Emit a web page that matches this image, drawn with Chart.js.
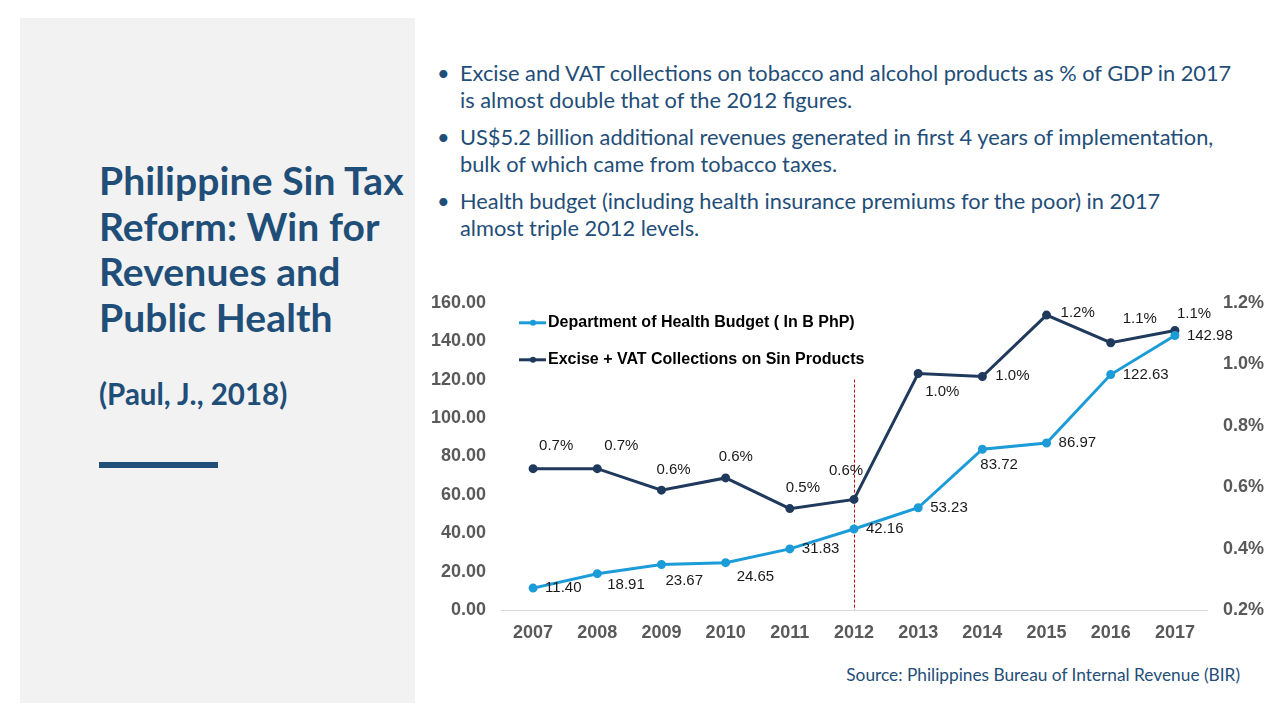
<!DOCTYPE html>
<html>
<head>
<meta charset="utf-8">
<script src="https://cdn.jsdelivr.net/npm/chart.js@4.4.1/dist/chart.umd.min.js"></script>
<style>
    body { margin: 0; width: 1280px; height: 720px; background: #fff; position: relative; overflow: hidden; font-family: Lato, "Open Sans", sans-serif; }
    #panel { position: absolute; left: 20px; top: 18px; width: 395px; height: 685px; background: #f2f2f2; }
    #title { position: absolute; left: 99px; top: 158px; color: #1f4e79; font-weight: bold; font-size: 39px; line-height: 45.5px; letter-spacing: 0.1px; white-space: nowrap; }
    #cite { position: absolute; left: 99px; top: 376px; color: #1f4e79; font-weight: bold; font-size: 29.5px; white-space: nowrap; }
    #bar { position: absolute; left: 99px; top: 462px; width: 119px; height: 6px; background: #1f4e79; }
    #bullets { position: absolute; left: 437px; top: 59px; color: #1f4e79; font-size: 21.8px; line-height: 27px; }
    .b { position: relative; padding-left: 23px; white-space: nowrap; margin-bottom: 10px; letter-spacing: 0; }
    .b:before { content: "\2022"; position: absolute; left: 0; top: 0; }
    #source { position: absolute; right: 40px; top: 664px; color: #1f4e79; font-size: 17.3px; white-space: nowrap; }
    #box { position: absolute; left: 420px; top: 276px; width: 860px; height: 374px; }
</style>
</head>
<body>
<div id="panel"></div>
<div id="title">Philippine Sin Tax<br>Reform: Win for<br>Revenues and<br>Public Health</div>
<div id="cite">(Paul, J., 2018)</div>
<div id="bar"></div>
<div id="bullets">
    <div class="b">Excise and VAT collections on tobacco and alcohol products as % of GDP in 2017<br>is almost double that of the 2012 figures.</div>
    <div class="b">US$5.2 billion additional revenues generated in first 4 years of implementation,<br>bulk of which came from tobacco taxes.</div>
    <div class="b">Health budget (including health insurance premiums for the poor) in 2017<br>almost triple 2012 levels.</div>
</div>
<div id="source">Source: Philippines Bureau of Internal Revenue (BIR)</div>
<div id="box"><canvas id="graph"></canvas></div>
<script>
// data
var years = ["2007", "2008", "2009", "2010", "2011", "2012", "2013", "2014", "2015", "2016", "2017"];
var healthBudget = [11.40, 18.91, 23.67, 24.65, 31.83, 42.16, 53.23, 83.72, 86.97, 122.63, 142.98];
var sinTaxPctGdp = [0.66, 0.66, 0.59, 0.63, 0.53, 0.56, 0.97, 0.96, 1.16, 1.07, 1.11];
var healthLabel = "Department of Health Budget ( In B PhP)";
var sinTaxLabel = "Excise + VAT Collections on Sin Products";
var markerYear = "2012";

var healthColor = '#1b9cd8';
var sinColor = '#1f3a5c';

// where each value label sits relative to its point (left edge dx, middle dy)
var healthLabelOffsets = [[12, 0], [10, 11], [4, 16], [11, 14], [12, 0], [12, 0], [12, 0], [-2, 16], [12, 0], [12, 0], [12, 0]];
var sinLabelOffsets = [[6, -23], [7, -23], [-5, -20], [-7, -21], [-4, -21], [-25, -29], [7, 18], [13, -1], [14, -2], [12, -24], [2, -17]];

var extras = {
    id: 'extras',
    beforeDatasetsDraw: function(chart) {
        var c = chart.ctx;
        var x = chart.scales.x.getPixelForValue(years.indexOf(markerYear));
        var top = chart.scales.y.getPixelForValue(120);
        c.save();
        c.strokeStyle = '#c00000';
        c.lineWidth = 1;
        c.setLineDash([3, 2]);
        c.beginPath();
        c.moveTo(x + 0.5, top);
        c.lineTo(x + 0.5, chart.chartArea.bottom);
        c.stroke();
        c.restore();
    },
    afterDatasetsDraw: function(chart) {
        var c = chart.ctx;
        c.save();
        c.font = '15px "Liberation Sans", Arial, sans-serif';
        c.fillStyle = '#1a1a1a';
        c.textBaseline = 'middle';
        c.textAlign = 'left';
        var sets = [[0, healthBudget, healthLabelOffsets, function(v) { return v.toFixed(2); }],
                    [1, sinTaxPctGdp, sinLabelOffsets, function(v) { return v.toFixed(1) + '%'; }]];
        sets.forEach(function(s) {
            var meta = chart.getDatasetMeta(s[0]);
            meta.data.forEach(function(pt, i) {
                c.fillText(s[3](s[1][i]), pt.x + s[2][i][0], pt.y + s[2][i][1]);
            });
        });

        // legend inside the plot
        var items = [[healthLabel, healthColor, 20], [sinTaxLabel, sinColor, 57]];
        c.font = 'bold 16px "Liberation Sans", Arial, sans-serif';
        items.forEach(function(it) {
            var lx = chart.chartArea.left + 18;
            var ly = chart.chartArea.top + it[2];
            c.strokeStyle = it[1];
            c.fillStyle = it[1];
            c.lineWidth = 3;
            c.beginPath();
            c.moveTo(lx, ly);
            c.lineTo(lx + 27, ly);
            c.stroke();
            c.beginPath();
            c.arc(lx + 14, ly, 3, 0, Math.PI * 2);
            c.fill();
            c.fillStyle = '#000';
            c.fillText(it[0], lx + 29, ly);
        });
        c.restore();
    }
};

var tickFont = { family: '"Liberation Sans", Arial, sans-serif', size: 18, weight: 'bold' };

var ctx = document.getElementById('graph');
var myChart = new Chart(ctx, {
    type: 'line',
    data: {
        labels: years,
        datasets: [
            {
                label: healthLabel,
                data: healthBudget,
                yAxisID: 'y',
                borderColor: healthColor,
                backgroundColor: healthColor,
                borderWidth: 3,
                pointRadius: 3,
                tension: 0
            },
            {
                label: sinTaxLabel,
                data: sinTaxPctGdp,
                yAxisID: 'y1',
                borderColor: sinColor,
                backgroundColor: sinColor,
                borderWidth: 3,
                pointRadius: 3,
                tension: 0
            }]
    },
    options: {
        responsive: true,
        maintainAspectRatio: false,
        animation: false,
        layout: { padding: { top: 12 } },
        plugins: {
            legend: { display: false },
            tooltip: { enabled: false }
        },
        scales: {
            x: {
                offset: true,
                grid: { display: false, drawTicks: false },
                border: { color: '#d9d9d9', width: 1 },
                ticks: { color: '#595959', font: tickFont, padding: 12 },
                afterFit: function(s) { s.height = 40; }
            },
            y: {
                position: 'left',
                min: 0, max: 160,
                grid: { display: false, drawTicks: false },
                border: { display: false },
                ticks: { stepSize: 20, color: '#595959', font: tickFont, padding: 15,
                    callback: function(v) { return v.toFixed(2); } },
                afterFit: function(s) { s.width = 81; }
            },
            y1: {
                position: 'right',
                min: 0.2, max: 1.2,
                grid: { display: false, drawTicks: false },
                border: { display: false },
                ticks: { stepSize: 0.2, color: '#595959', font: tickFont, padding: 16,
                    callback: function(v) { return v.toFixed(1) + '%'; } },
                afterFit: function(s) { s.width = 73; }
            }
        }
    },
    plugins: [extras]
});
</script>
</body>
</html>
